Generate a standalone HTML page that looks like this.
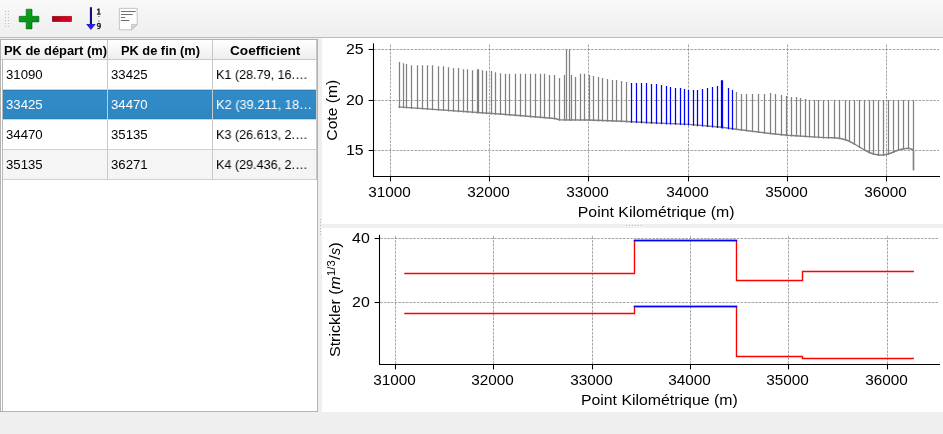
<!DOCTYPE html>
<html><head><meta charset="utf-8"><title>Strickler</title>
<style>
html,body{margin:0;padding:0;}
body{width:943px;height:434px;overflow:hidden;background:#efefef;position:relative;font-family:"Liberation Sans",sans-serif;}
.toolbar{position:absolute;left:0;top:0;width:943px;height:37px;background:linear-gradient(#f9f9f9,#eeeeee);border-bottom:1px solid #bcbcbc;}
.icons{position:absolute;left:0;top:0;}
.table{position:absolute;left:0;top:39px;width:316px;height:371px;border:1px solid #b2b2b2;background:#fff;}
.hdr{position:absolute;top:0;height:19px;background:linear-gradient(#ffffff,#eeeeee);border-right:1px solid #c8c8c8;border-bottom:1px solid #c8c8c8;font-weight:bold;font-size:12.0px;color:#000;overflow:hidden;}
.hdr span{position:absolute;top:3.9px;will-change:transform;line-height:14px;white-space:nowrap;transform-origin:0 50%;}
.vline{position:absolute;left:1px;top:20px;width:1px;height:351px;background:#b9b9b9;}
.row{position:absolute;left:2px;width:314px;height:29px;border-bottom:1px solid #d0d0d0;}
.row.alt{background:#f5f5f5;}
.row.sel{background:linear-gradient(#2f8dca,#2f86c0);color:#fff;border-bottom-color:#d4d4d4;box-shadow:inset 0 1px 0 #2a7db6,inset 0 -1px 0 #2b7fb8;}
.cell{position:absolute;top:0;height:29px;font-size:13.1px;border-right:1px solid #c9c9c9;box-sizing:border-box;overflow:hidden;}
.cell span{position:absolute;top:6.6px;will-change:transform;line-height:16px;white-space:nowrap;transform-origin:0 50%;}
.canvas{position:absolute;left:322px;width:621px;background:#fff;}
.charts{position:absolute;left:0;top:0;}
.dots{position:absolute;}
</style></head><body>
<div class="toolbar"></div>
<svg class="icons" width="160" height="37" viewBox="0 0 160 37">
<defs>
<linearGradient id="gr" x1="0" y1="0" x2="1" y2="0"><stop offset="0" stop-color="#a00018"/><stop offset="1" stop-color="#e8001e"/></linearGradient>
<linearGradient id="gg" x1="0" y1="0" x2="1" y2="1"><stop offset="0" stop-color="#0aa81e"/><stop offset="1" stop-color="#088818"/></linearGradient>
</defs>
<g fill="#bdbdbd"><rect x="5" y="11" width="1" height="1"/><rect x="5" y="14" width="1" height="1"/><rect x="5" y="17" width="1" height="1"/><rect x="5" y="20" width="1" height="1"/><rect x="5" y="23" width="1" height="1"/><rect x="5" y="26" width="1" height="1"/><rect x="8" y="11" width="1" height="1"/><rect x="8" y="14" width="1" height="1"/><rect x="8" y="17" width="1" height="1"/><rect x="8" y="20" width="1" height="1"/><rect x="8" y="23" width="1" height="1"/><rect x="8" y="26" width="1" height="1"/></g>
<path d="M26.2 9.2h5.8v7.1h6.9v5.6h-6.9v7h-5.8v-7h-7v-5.6h7z" fill="#fff" stroke="#fff" stroke-width="2.2" stroke-linejoin="round" opacity="0.9"/>
<path d="M26.2 9.2h5.8v7.1h6.9v5.6h-6.9v7h-5.8v-7h-7v-5.6h7z" fill="url(#gg)" stroke="#066a12" stroke-width="0.7"/>
<rect x="51.4" y="15.4" width="21" height="7" fill="#fff" opacity="0.9"/>
<rect x="52.2" y="16.2" width="19.5" height="5.5" fill="url(#gr)" stroke="#8a0014" stroke-width="0.5"/>
<rect x="89.9" y="7.2" width="2.1" height="17.6" fill="#101078"/>
<path d="M86.1 23.9h9.6l-4.8 6.1z" fill="#2222d8"/>
<path d="M98.15 8.6h1.45v5h1.1v1.1h-3.8v-1.1h1.25v-3.5l-1.25 0.45v-1.1z" fill="#262626"/>
<g fill="none" stroke="#262626" stroke-width="1.25"><circle cx="98.85" cy="24.9" r="1.5"/><path d="M100.4 24.8C100.5 27.6 99.6 28.7 97.4 28.55"/></g>
<rect x="98.3" y="16" width="1.2" height="0.9" fill="#555"/><rect x="98.3" y="20.5" width="1.2" height="0.9" fill="#555"/>
<path d="M119.4 8.4h17.8v16.2l-5.6 5.2h-12.2z" fill="#fff" stroke="#b9b9b9" stroke-width="0.8"/>
<path d="M137.2 24.4h-5.8v5.4z" fill="#d8d8d8" stroke="#b0b0b0" stroke-width="0.6"/>
<g stroke="#707070" stroke-width="1"><path d="M120.9 11.5H135.7M120.9 14.5H132.7M120.9 17.5H125.1M120.9 20.5H129.3"/></g>
</svg>
<div class="canvas" style="top:38px;height:186px"></div>
<div class="canvas" style="top:228px;height:184px"></div>
<div class="table">
 <div class="hdr" style="left:0;width:106px"><span style="left:2.64px;transform:scaleX(1.0728)">PK de départ (m)</span></div>
 <div class="hdr" style="left:107px;width:104px"><span style="left:12.85px;transform:scaleX(1.0675)">PK de fin (m)</span></div>
 <div class="hdr" style="left:212px;width:103px"><span style="left:16.79px;transform:scaleX(1.1352)">Coefficient</span></div>
 <div class="row" style="top:20px"><div class="cell" style="left:0;width:105px"><span style="left:2.90px;transform:scaleX(1.0077)">31090</span></div><div class="cell" style="left:105px;width:105px"><span style="left:3.10px;transform:scaleX(1.0049)">33425</span></div><div class="cell" style="left:210px;width:104px"><span style="left:3.02px;transform:scaleX(0.9618)">K1 (28.79, 16.…</span></div></div>
 <div class="row sel" style="top:50px"><div class="cell" style="left:0;width:105px"><span style="left:2.90px;transform:scaleX(1.0077)">33425</span></div><div class="cell" style="left:105px;width:105px"><span style="left:3.10px;transform:scaleX(1.0049)">34470</span></div><div class="cell" style="left:210px;width:104px"><span style="left:3.01px;transform:scaleX(0.9786)">K2 (39.211, 18…</span></div></div>
 <div class="row" style="top:80px"><div class="cell" style="left:0;width:105px"><span style="left:2.90px;transform:scaleX(1.0077)">34470</span></div><div class="cell" style="left:105px;width:105px"><span style="left:3.10px;transform:scaleX(1.0049)">35135</span></div><div class="cell" style="left:210px;width:104px"><span style="left:3.02px;transform:scaleX(0.9618)">K3 (26.613, 2.…</span></div></div>
 <div class="row alt" style="top:110px"><div class="cell" style="left:0;width:105px"><span style="left:2.90px;transform:scaleX(1.0077)">35135</span></div><div class="cell" style="left:105px;width:105px"><span style="left:3.10px;transform:scaleX(1.0049)">36271</span></div><div class="cell" style="left:210px;width:104px"><span style="left:3.02px;transform:scaleX(0.9618)">K4 (29.436, 2.…</span></div></div>
 <div class="vline"></div>
</div>
<svg class="dots" style="left:318px;top:216px" width="4" height="24"><g fill="#b8b8b8"><rect x="3" y="4" width="1" height="1" fill="#fbfbfb"/><rect x="2" y="3" width="1" height="1"/><rect x="3" y="7" width="1" height="1" fill="#fbfbfb"/><rect x="2" y="6" width="1" height="1"/><rect x="3" y="10" width="1" height="1" fill="#fbfbfb"/><rect x="2" y="9" width="1" height="1"/><rect x="3" y="13" width="1" height="1" fill="#fbfbfb"/><rect x="2" y="12" width="1" height="1"/><rect x="3" y="16" width="1" height="1" fill="#fbfbfb"/><rect x="2" y="15" width="1" height="1"/><rect x="3" y="19" width="1" height="1" fill="#fbfbfb"/><rect x="2" y="18" width="1" height="1"/></g></svg>
<svg class="dots" style="left:622px;top:224px" width="24" height="4"><g fill="#b8b8b8"><rect x="5" y="2" width="1" height="1" fill="#fbfbfb"/><rect x="4" y="1" width="1" height="1"/><rect x="8" y="2" width="1" height="1" fill="#fbfbfb"/><rect x="7" y="1" width="1" height="1"/><rect x="11" y="2" width="1" height="1" fill="#fbfbfb"/><rect x="10" y="1" width="1" height="1"/><rect x="14" y="2" width="1" height="1" fill="#fbfbfb"/><rect x="13" y="1" width="1" height="1"/><rect x="17" y="2" width="1" height="1" fill="#fbfbfb"/><rect x="16" y="1" width="1" height="1"/><rect x="20" y="2" width="1" height="1" fill="#fbfbfb"/><rect x="19" y="1" width="1" height="1"/></g></svg>
<svg class="charts" width="943" height="434" viewBox="0 0 943 434" font-family="'Liberation Sans', sans-serif" fill="#000">
<g stroke="#808080" stroke-width="0.7" stroke-dasharray="2.57 1.11" fill="none" shape-rendering="auto">
<path d="M390.5 176V43.3"/>
<path d="M489.5 176V43.3"/>
<path d="M588.5 176V43.3"/>
<path d="M688.5 176V43.3"/>
<path d="M787.5 176V43.3"/>
<path d="M886.5 176V43.3"/>
<path d="M374 49.5H939"/>
<path d="M374 100.5H939"/>
<path d="M374 150.5H939"/>
</g>
<path d="M399.5 62.0V108.0M403.5 63.2V108.3M406.5 64.1V108.5M411.5 65.3V108.8M417.5 65.3V109.3M422.5 65.3V109.6M427.5 65.3V110.0M432.5 65.3V110.3M438.5 66.3V110.7M443.5 66.3V111.1M448.5 67.3V111.5M453.5 68.0V111.8M458.5 68.0V112.2M463.5 69.3V112.5M467.5 69.3V112.8M472.5 70.3V113.2M477.5 69.3V113.5M478.5 69.3V113.6M482.5 70.3V113.9M486.5 71.0V114.2M491.5 71.0V114.5M495.5 72.3V114.8M500.5 73.3V115.1M505.5 73.8V115.5M509.5 73.8V115.8M515.5 73.8V116.2M520.5 73.8V116.7M525.5 73.8V117.1M530.5 73.8V117.5M535.5 73.8V117.9M540.5 73.8V118.3M544.5 73.8V118.6M549.5 75.0V119.0M554.5 75.0V119.5M559.5 78.0V120.8M564.5 75.0V120.8M566.5 49.5V120.8M569.5 49.5V120.9M571.5 75.0V120.9M575.5 77.0V120.9M580.5 73.8V120.9M584.5 73.8V121.0M589.5 75.0V121.0M593.5 76.0V121.2M598.5 77.0V121.4M602.5 78.0V121.5M607.5 79.0V121.7M612.5 80.0V121.9M616.5 80.0V122.1M621.5 81.0V122.3M626.5 82.0V122.5M736.5 92.0V130.3M741.5 94.0V130.9M746.5 94.0V131.5M752.5 94.0V132.2M758.5 94.0V133.0M764.5 94.0V133.7M770.5 93.0V134.4M775.5 94.0V135.1M781.5 95.0V135.7M786.5 96.0V136.2M791.5 97.0V136.5M796.5 97.0V136.8M800.5 98.0V137.1M805.5 99.0V137.4M809.5 100.0V137.6M814.5 100.0V138.0M818.5 100.0V138.2M823.5 100.0V138.5M828.5 100.0V138.7M834.5 100.0V138.8M839.5 100.0V139.3M845.5 100.0V140.8M849.5 100.0V142.3M854.5 100.0V145.0M859.5 100.0V148.0M864.5 100.0V151.0M869.5 100.0V153.5M873.5 100.0V155.0M878.5 100.0V156.0M883.5 100.0V156.0M888.5 100.0V155.0M893.5 100.0V153.0M898.5 100.0V151.0M903.5 100.0V149.8M908.5 100.0V149.3M913.5 100.0V170.3" stroke="#808080" stroke-width="1.25" fill="none"/>
<path d="M398.3 106.9L512.6 115.0L555.0 118.5L559.4 119.8L589.0 120.0L622.6 121.3L646.3 122.5L688.8 124.4L722.0 127.3L732.6 128.8L775.0 134.0L787.6 135.3L825.0 137.6L834.5 137.8L839.5 138.3L845.5 139.8L849.5 141.3L854.5 144.0L859.5 147.0L864.5 150.0L869.5 152.5L873.5 154.0L878.5 155.0L883.5 155.0L888.5 154.0L893.5 152.0L898.5 150.0L903.5 148.8L908.5 148.3L912.6 149.5L913.5 150.5V170.3" stroke="#808080" stroke-width="1.45" fill="none" stroke-linejoin="round"/>
<path d="M631.5 83.0V122.8M636.5 83.0V123.0M641.5 83.0V123.3M646.5 83.0V123.5M651.5 84.0V123.7M656.5 84.0V124.0M661.5 85.0V124.2M666.5 86.0V124.4M670.5 87.0V124.6M675.5 88.0V124.8M680.5 88.0V125.0M684.5 89.0V125.2M688.5 90.0V125.4M693.5 90.0V125.8M697.5 90.0V126.2M702.5 89.0V126.6M707.5 88.0V127.0M712.5 87.0V127.5M717.5 86.0V127.9M721.5 80.2V128.3M722.5 80.2V128.4M728.5 88.0V129.2M732.5 90.0V129.8" stroke="#0000ff" stroke-width="1.25" fill="none"/>
<g stroke="#000" stroke-width="1.07" fill="none">
<path d="M373.5 43.3V176.5H940"/>
<path d="M390.5 176.5V181.4"/>
<path d="M489.5 176.5V181.4"/>
<path d="M588.5 176.5V181.4"/>
<path d="M688.5 176.5V181.4"/>
<path d="M787.5 176.5V181.4"/>
<path d="M886.5 176.5V181.4"/>
<path d="M368.6 49.5H373.5"/>
<path d="M368.6 100.5H373.5"/>
<path d="M368.6 150.5H373.5"/>
</g>
<text x="389.5" y="197.0" font-size="14.9" text-anchor="middle" textLength="42.6" lengthAdjust="spacingAndGlyphs">31000</text>
<text x="488.5" y="197.0" font-size="14.9" text-anchor="middle" textLength="42.6" lengthAdjust="spacingAndGlyphs">32000</text>
<text x="587.5" y="197.0" font-size="14.9" text-anchor="middle" textLength="42.6" lengthAdjust="spacingAndGlyphs">33000</text>
<text x="687.5" y="197.0" font-size="14.9" text-anchor="middle" textLength="42.6" lengthAdjust="spacingAndGlyphs">34000</text>
<text x="786.5" y="197.0" font-size="14.9" text-anchor="middle" textLength="42.6" lengthAdjust="spacingAndGlyphs">35000</text>
<text x="885.5" y="197.0" font-size="14.9" text-anchor="middle" textLength="42.6" lengthAdjust="spacingAndGlyphs">36000</text>
<text x="363.6" y="54.4" font-size="14.9" text-anchor="end" textLength="17.7" lengthAdjust="spacingAndGlyphs">25</text>
<text x="363.6" y="105.4" font-size="14.9" text-anchor="end" textLength="17.7" lengthAdjust="spacingAndGlyphs">20</text>
<text x="363.6" y="155.4" font-size="14.9" text-anchor="end" textLength="17.7" lengthAdjust="spacingAndGlyphs">15</text>
<text x="656.2" y="216.7" font-size="14.9" text-anchor="middle" textLength="156.8" lengthAdjust="spacingAndGlyphs">Point Kilométrique (m)</text>
<g transform="translate(336.9 110.2) rotate(-90)"><text x="0.0" y="0.0" font-size="14.9" text-anchor="middle" textLength="61.0" lengthAdjust="spacingAndGlyphs">Cote (m)</text></g>
<g stroke="#808080" stroke-width="0.7" stroke-dasharray="2.57 1.11" fill="none">
<path d="M395.5 364V235"/>
<path d="M493.5 364V235"/>
<path d="M592.5 364V235"/>
<path d="M690.5 364V235"/>
<path d="M788.5 364V235"/>
<path d="M887.5 364V235"/>
<path d="M380 238.5H939"/>
<path d="M380 302.5H939"/>
</g>
<g stroke="#ff0000" stroke-width="1.39" fill="none"><path d="M404.3 273.5H634.5V240.5H736.5V280.5H802.5V271.5H913.9"/><path d="M404.3 313.5H634.5V306.5H736.5V356.5H802.5V358.5H913.9"/></g>
<g stroke="#0000ff" stroke-width="1.39" fill="none"><path d="M633.8 240.5H737.2"/><path d="M633.8 306.5H737.2"/></g>
<g stroke="#000" stroke-width="1.07" fill="none">
<path d="M379.5 234.7V364.5H940"/>
<path d="M395.5 364.5V369.4"/>
<path d="M493.5 364.5V369.4"/>
<path d="M592.5 364.5V369.4"/>
<path d="M690.5 364.5V369.4"/>
<path d="M788.5 364.5V369.4"/>
<path d="M887.5 364.5V369.4"/>
<path d="M374.6 238.5H379.5"/>
<path d="M374.6 302.5H379.5"/>
</g>
<text x="394.5" y="384.8" font-size="14.9" text-anchor="middle" textLength="42.6" lengthAdjust="spacingAndGlyphs">31000</text>
<text x="492.5" y="384.8" font-size="14.9" text-anchor="middle" textLength="42.6" lengthAdjust="spacingAndGlyphs">32000</text>
<text x="591.5" y="384.8" font-size="14.9" text-anchor="middle" textLength="42.6" lengthAdjust="spacingAndGlyphs">33000</text>
<text x="689.5" y="384.8" font-size="14.9" text-anchor="middle" textLength="42.6" lengthAdjust="spacingAndGlyphs">34000</text>
<text x="787.5" y="384.8" font-size="14.9" text-anchor="middle" textLength="42.6" lengthAdjust="spacingAndGlyphs">35000</text>
<text x="886.5" y="384.8" font-size="14.9" text-anchor="middle" textLength="42.6" lengthAdjust="spacingAndGlyphs">36000</text>
<text x="369.8" y="243.4" font-size="14.9" text-anchor="end" textLength="17.7" lengthAdjust="spacingAndGlyphs">40</text>
<text x="369.8" y="307.4" font-size="14.9" text-anchor="end" textLength="17.7" lengthAdjust="spacingAndGlyphs">20</text>
<text x="659.3" y="404.5" font-size="14.9" text-anchor="middle" textLength="156.8" lengthAdjust="spacingAndGlyphs">Point Kilométrique (m)</text>
<g transform="translate(339.5 357.0) rotate(-90)">
<text x="0" y="0" font-size="14.9" textLength="67.5" lengthAdjust="spacingAndGlyphs">Strickler (</text>
<text x="67.5" y="0" font-size="14.9" font-style="italic" textLength="13.2" lengthAdjust="spacingAndGlyphs">m</text>
<text x="81.1" y="-4.6" font-size="10.4" textLength="15.6" lengthAdjust="spacingAndGlyphs">1/3</text>
<text x="97.3" y="0" font-size="14.9" textLength="4.7" lengthAdjust="spacingAndGlyphs">/</text>
<text x="102.0" y="0" font-size="14.9" font-style="italic" textLength="7.2" lengthAdjust="spacingAndGlyphs">s</text>
<text x="109.2" y="0" font-size="14.9" textLength="5.4" lengthAdjust="spacingAndGlyphs">)</text>
</g>
</svg>
</body></html>
